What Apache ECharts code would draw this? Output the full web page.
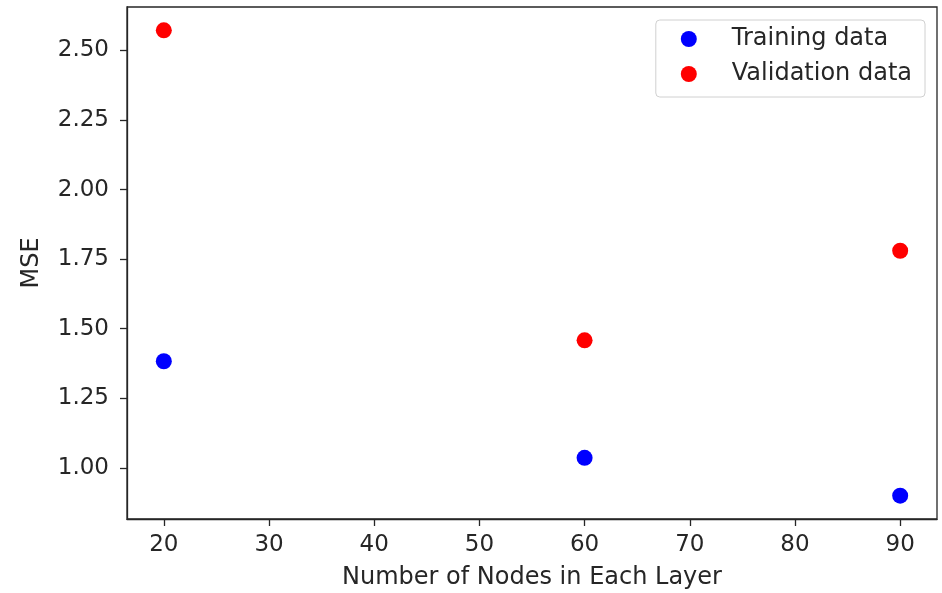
<!DOCTYPE html>
<html>
<head>
<meta charset="utf-8">
<script src="https://cdn.jsdelivr.net/npm/echarts@6/dist/echarts.min.js"></script>
<style>html,body{margin:0;padding:0;background:#fff}#c{width:942px;height:593px}</style>
</head>
<body>
<div id="c"></div>
<script>
const nodes = [20, 60, 90];
const trainingMSE = [1.383, 1.036, 0.900];
const validationMSE = [2.572, 1.458, 1.780];
const xTicks = [20, 30, 40, 50, 60, 70, 80, 90];
const yTicks = [1.00, 1.25, 1.50, 1.75, 2.00, 2.25, 2.50];

const chart = echarts.init(document.getElementById('c'));
const font = 'DejaVu Sans';
const fs = 23;
const fsName = 24;
chart.setOption({
  animation: false,
  textStyle: {fontFamily: font},
  grid: {left: 127, right: 5, top: 7, bottom: 74, show: true, outerBoundsMode: 'none', containLabel: false,
    borderColor: '#262626', borderWidth: 1.3, backgroundColor: 'transparent'},
  legend: {
    orient: 'vertical', right: 17, top: 20,
    padding: [7, 13, 11, 25],
    backgroundColor: '#fff', borderColor: '#d0d0d0', borderWidth: 1, borderRadius: 4,
    itemWidth: 16, itemHeight: 16, itemGap: 11,
    textStyle: {fontFamily: font, fontSize: fsName, color: '#262626', lineHeight: 24, padding: [0, 0, 0, 30]},
    data: [{name: 'Training data', icon: 'circle'}, {name: 'Validation data', icon: 'circle'}]
  },
  xAxis: {
    type: 'value', min: 16.5, max: 93.5,
    name: 'Number of Nodes in Each Layer', nameLocation: 'middle', nameGap: 47,
    nameTextStyle: {fontFamily: font, fontSize: fsName, color: '#262626'},
    axisLine: {show: true, lineStyle: {color: '#262626', width: 1.3}},
    axisTick: {show: true, length: 7, lineStyle: {color: '#262626', width: 1.3}, customValues: xTicks},
    axisLabel: {fontFamily: font, fontSize: fs, color: '#262626', margin: 15, customValues: xTicks},
    splitLine: {show: false}
  },
  yAxis: {
    type: 'value', min: 0.816, max: 2.656,
    name: 'MSE', nameLocation: 'middle', nameGap: 83,
    nameTextStyle: {fontFamily: font, fontSize: fsName, color: '#262626'},
    axisLine: {show: true, lineStyle: {color: '#262626', width: 1.3}},
    axisTick: {show: true, length: 7, lineStyle: {color: '#262626', width: 1.3}, customValues: yTicks},
    axisLabel: {fontFamily: font, fontSize: fs, color: '#262626', margin: 18, customValues: yTicks,
      formatter: v => v.toFixed(2)},
    splitLine: {show: false}
  },
  series: [
    {name: 'Training data', type: 'scatter', symbol: 'circle', symbolSize: 16, itemStyle: {color: '#0000ff', opacity: 1},
      data: nodes.map((n, i) => [n, trainingMSE[i]])},
    {name: 'Validation data', type: 'scatter', symbol: 'circle', symbolSize: 16, itemStyle: {color: '#ff0000', opacity: 1},
      data: nodes.map((n, i) => [n, validationMSE[i]])}
  ]
});
</script>
</body>
</html>
